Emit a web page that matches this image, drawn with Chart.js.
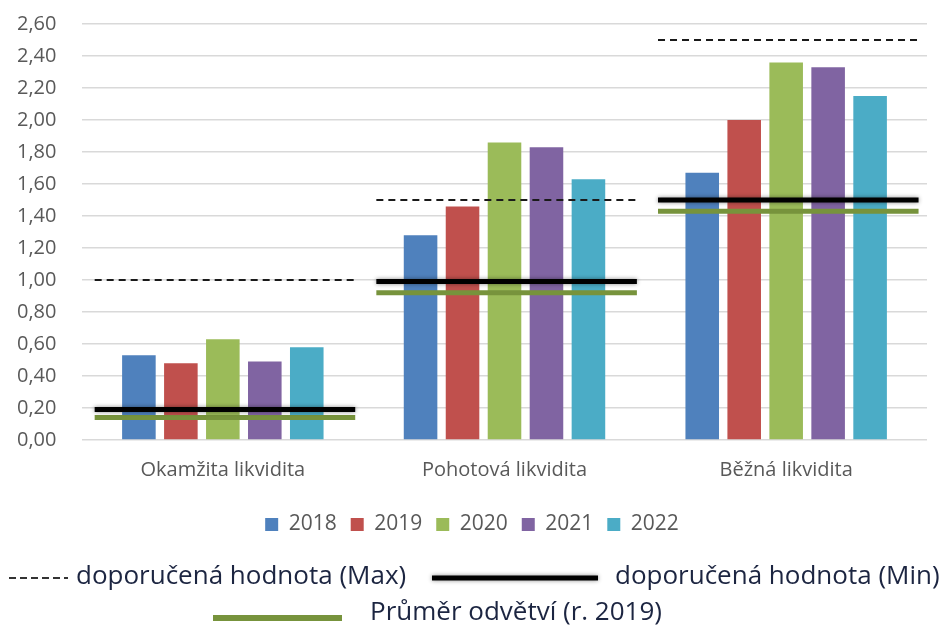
<!DOCTYPE html>
<html>
<head>
<meta charset="utf-8">
<script src="https://cdn.jsdelivr.net/npm/chart.js@4/dist/chart.umd.min.js"></script>
<style>
  html, body { margin: 0; padding: 0; background: #fff; }
  #wrap { width: 946px; height: 628px; position: relative; }
</style>
</head>
<body>
<div id="wrap"><canvas id="graf"></canvas></div>
<script>
// kategorie a hodnoty
const kategorie = ["Okamžita likvidita", "Pohotová likvidita", "Běžná likvidita"];
const roky = ["2018", "2019", "2020", "2021", "2022"];
const h2018 = [0.53, 1.28, 1.67];
const h2019 = [0.48, 1.46, 2.00];
const h2020 = [0.63, 1.86, 2.36];
const h2021 = [0.49, 1.83, 2.33];
const h2022 = [0.58, 1.63, 2.15];
const doporMax = [1.00, 1.50, 2.50];
const doporMin = [0.19, 0.99, 1.50];
const prumerOdvetvi = [0.14, 0.92, 1.43];
const popiskyY = ["0,00", "0,20", "0,40", "0,60", "0,80", "1,00", "1,20", "1,40", "1,60", "1,80", "2,00", "2,20", "2,40", "2,60"];

const barvy = ["#4F81BD", "#C0504D", "#9BBB59", "#8064A2", "#4BACC6"];
const serie = [h2018, h2019, h2020, h2021, h2022];

// úsečky přes celou kategorii
function usecky(hodnoty) {
  const body = [];
  hodnoty.forEach((v, i) => {
    body.push({ x: i - 0.455, y: v });
    body.push({ x: i + 0.47, y: v });
    body.push({ x: i + 0.5, y: null });
  });
  return body;
}

const sloupce = serie.map((data, i) => ({
  type: "bar",
  label: roky[i],
  data: data.map((v, k) => ({ x: k, y: v })),
  backgroundColor: barvy[i],
  categoryPercentage: 0.745,
  barPercentage: 0.8,
  order: 3
}));

const cary = [
  { label: "doporučená hodnota (Max)", data: usecky(doporMax), borderColor: "#1a1a1a", borderWidth: 2, borderDash: [7, 5], order: 1 },
  { label: "doporučená hodnota (Min)", data: usecky(doporMin), borderColor: "#000", borderWidth: 5, order: 1 },
  { label: "Průměr odvětví (r. 2019)", data: usecky(prumerOdvetvi), borderColor: "#77933C", borderWidth: 5, order: 2 }
].map(d => Object.assign({
  type: "line",
  pointRadius: 0,
  spanGaps: false,
  fill: false,
  tension: 0
}, d));

// stín pod černou čárou + vlastní legenda pro čáry
const legendaCar = {
  id: "legendaCar",
  beforeDatasetDraw(chart, args) {
    if (args.index === 6) {
      chart.ctx.save();
      chart.ctx.shadowColor = "rgba(0,0,0,0.45)";
      chart.ctx.shadowBlur = 4;
    }
  },
  afterDatasetDraw(chart, args) {
    if (args.index === 6) chart.ctx.restore();
  },
  afterDraw(chart) {
    const ctx = chart.ctx;
    ctx.save();
    ctx.font = "26px 'Open Sans'";
    ctx.fillStyle = "#1c2541";
    ctx.textBaseline = "middle";

    ctx.strokeStyle = "#333";
    ctx.lineWidth = 2;
    ctx.setLineDash([7, 4]);
    ctx.beginPath(); ctx.moveTo(9, 578); ctx.lineTo(68, 578); ctx.stroke();
    ctx.setLineDash([]);
    ctx.fillText("doporučená hodnota (Max)", 76, 577);

    ctx.save();
    ctx.shadowColor = "rgba(0,0,0,0.45)";
    ctx.shadowBlur = 4;
    ctx.strokeStyle = "#000";
    ctx.lineWidth = 5;
    ctx.beginPath(); ctx.moveTo(432, 578); ctx.lineTo(598, 578); ctx.stroke();
    ctx.restore();
    ctx.fillText("doporučená hodnota (Min)", 615, 577);

    ctx.strokeStyle = "#77933C";
    ctx.lineWidth = 6;
    ctx.beginPath(); ctx.moveTo(213, 618); ctx.lineTo(342, 618); ctx.stroke();
    ctx.fillText("Průměr odvětví (r. 2019)", 370, 613);
    ctx.restore();
  }
};

new Chart(document.getElementById("graf"), {
  data: {
    datasets: sloupce.concat(cary)
  },
  options: {
    responsive: true,
    maintainAspectRatio: false,
    animation: false,
    layout: { padding: { top: 24, right: 19, left: 17, bottom: 83 } },
    plugins: {
      tooltip: { enabled: false },
      legend: {
        position: "bottom",
        labels: {
          filter: item => item.datasetIndex < 5,
          boxWidth: 13,
          boxHeight: 13,
          padding: 14,
          color: "#595959",
          font: { family: "'Open Sans'", size: 21 }
        }
      }
    },
    scales: {
      x: {
        type: "linear",
        min: -0.5,
        max: 2.5,
        offset: false,
        grid: { display: false, drawTicks: false },
        border: { display: false },
        afterBuildTicks: s => { s.ticks = kategorie.map((_, i) => ({ value: i })); },
        ticks: {
          color: "#595959",
          font: { family: "'Open Sans'", size: 20 },
          padding: 18,
          autoSkip: false,
          maxRotation: 0,
          callback: v => kategorie[v]
        }
      },
      y: {
        min: 0,
        max: 2.6,
        border: { display: false },
        grid: { color: "#D9D9D9", lineWidth: 1.5, drawTicks: false },
        afterFit: s => { s.width = 65; },
        ticks: {
          stepSize: 0.2,
          color: "#595959",
          font: { family: "'Open Sans'", size: 20 },
          padding: 0,
          crossAlign: "far",
          callback: (v, i) => popiskyY[i]
        }
      }
    }
  },
  plugins: [legendaCar]
});
</script>
</body>
</html>
